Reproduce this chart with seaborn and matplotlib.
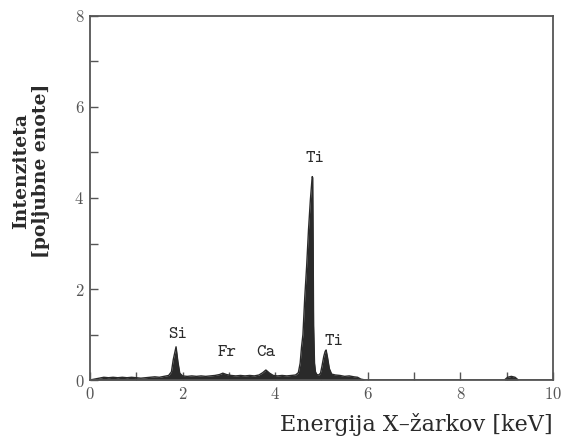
import matplotlib
matplotlib.use('Agg')
import matplotlib.pyplot as plt
import seaborn as sns

# ============================================================
# Spectrum (energy in keV, intensity a.u.)
# ============================================================
energy = [0.00, 0.10, 0.20, 0.30, 0.40, 0.50, 0.60, 0.70, 0.80, 0.90,
          1.00, 1.10, 1.20, 1.30, 1.40, 1.50, 1.60, 1.70, 1.76, 1.80,
          1.86, 1.90, 1.94, 2.00, 2.10, 2.20, 2.30, 2.40, 2.50, 2.60,
          2.70, 2.80, 2.87, 2.95, 3.05, 3.15, 3.25, 3.35, 3.45, 3.55,
          3.65, 3.73, 3.80, 3.88, 3.96, 4.05, 4.15, 4.25, 4.35, 4.44,
          4.50, 4.54, 4.57, 4.60, 4.64, 4.68, 4.72, 4.76, 4.80, 4.81,
          4.82, 4.83, 4.85, 4.87, 4.90, 4.94, 4.98, 5.01, 5.05, 5.08,
          5.10, 5.13, 5.17, 5.22, 5.30, 5.40, 5.50, 5.60, 5.70, 5.78,
          5.85, 5.95, 7.00, 8.95, 9.02, 9.10, 9.18, 9.25, 10.00]
intensity = [0.00, 0.02, 0.04, 0.06, 0.05, 0.06, 0.05, 0.06, 0.05, 0.06,
             0.05, 0.04, 0.05, 0.06, 0.07, 0.06, 0.08, 0.10, 0.18, 0.45,
             0.73, 0.40, 0.15, 0.09, 0.08, 0.09, 0.08, 0.09, 0.08, 0.09,
             0.10, 0.12, 0.15, 0.12, 0.10, 0.09, 0.10, 0.09, 0.10, 0.09,
             0.11, 0.16, 0.22, 0.15, 0.10, 0.09, 0.10, 0.09, 0.10, 0.11,
             0.16, 0.37, 0.73, 1.00, 1.83, 2.50, 3.30, 3.95, 4.47, 4.45,
             3.00, 1.20, 0.37, 0.18, 0.12, 0.11, 0.15, 0.30, 0.52, 0.63,
             0.66, 0.50, 0.25, 0.13, 0.11, 0.10, 0.08, 0.09, 0.07, 0.06,
             0.02, 0.00, 0.00, 0.00, 0.06, 0.08, 0.06, 0.00, 0.00]

peak_names = ['Si', 'Fr', 'Ca', 'Ti', 'Ti']
peak_x = [1.90, 2.97, 3.80, 4.87, 5.26]
peak_y = [1.01, 0.60, 0.60, 4.86, 0.84]

sns.set_style('ticks')
plt.rcParams['font.family'] = ['cmr10', 'DejaVu Serif']
plt.rcParams['axes.formatter.use_mathtext'] = True

ink = '#2a2a2a'
grey = '#555555'

fig = plt.figure(figsize=(5.62, 4.38), dpi=100)
ax = fig.add_axes([0.160, 0.1324, 0.824, 0.8311])

ax.fill_between(energy, intensity, 0, color=ink, linewidth=0)
sns.lineplot(x=energy, y=intensity, ax=ax, color=ink, linewidth=1.0,
             estimator=None, sort=False)

for name, px, py in zip(peak_names, peak_x, peak_y):
    ax.text(px, py, name, family='cmtt10', fontsize=13, color=ink,
            ha='center', va='center')

ax.set_xlim(0, 10)
ax.set_ylim(0, 8)
ax.set_xticks([0, 2, 4, 6, 8, 10])
ax.set_xticks([1, 3, 5, 7, 9], minor=True)
ax.set_yticks([0, 2, 4, 6, 8])
ax.set_yticks([1, 3, 5, 7], minor=True)
ax.tick_params(which='both', direction='in', length=6, width=1.0,
               color=grey, labelcolor=grey, labelsize=12, pad=4)

for side in ['top', 'right', 'left', 'bottom']:
    ax.spines[side].set_visible(True)
    ax.spines[side].set_color(grey)
    ax.spines[side].set_linewidth(1.3)

ax.set_ylabel('Intenziteta\n[poljubne enote]', family='DejaVu Serif',
              fontsize=13.5, color=ink, linespacing=1.15, fontweight='semibold')
ax.yaxis.set_label_coords(-0.086, 0.575)
ax.set_xlabel('Energija X–žarkov [keV]', family='DejaVu Serif', fontsize=16,
              color=ink, loc='right', labelpad=8)

plt.savefig('out.png', dpi=100)
